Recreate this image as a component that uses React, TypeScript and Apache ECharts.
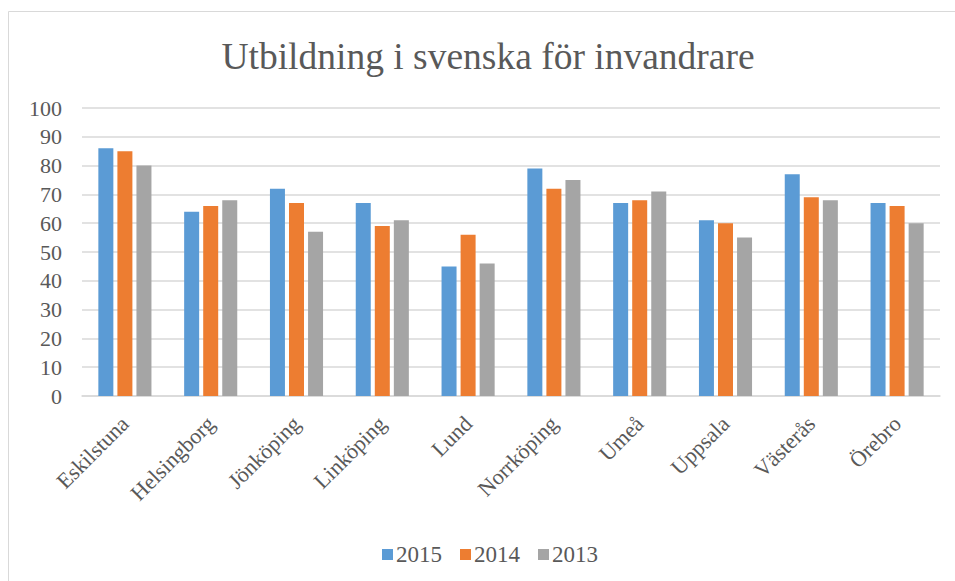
import React, { useEffect, useRef } from "react";
import * as echarts from "echarts";

const categories = ["Eskilstuna", "Helsingborg", "Jönköping", "Linköping", "Lund", "Norrköping", "Umeå", "Uppsala", "Västerås", "Örebro"];
const values2015 = [86, 64, 72, 67, 45, 79, 67, 61, 77, 67];
const values2014 = [85, 66, 67, 59, 56, 72, 68, 60, 69, 66];
const values2013 = [80, 68, 57, 61, 46, 75, 71, 55, 68, 60];
const seriesNames = ["2015", "2014", "2013"];
const colors = ["#5B9BD5", "#ED7D31", "#A5A5A5"];
const titleText = "Utbildning i svenska för invandrare";

const FONT = "Liberation Serif";

export default function App() {
  const ref = useRef<HTMLDivElement>(null);
  useEffect(() => {
    if (!ref.current) return;
    const chart = echarts.init(ref.current, undefined, { renderer: "svg" });
    const data = [values2015, values2014, values2013];
    chart.setOption({
      animation: false,
      backgroundColor: "#ffffff",
      color: colors,
      textStyle: { fontFamily: FONT },
      graphic: [
        {
          type: "rect",
          shape: { x: 8.5, y: 11.5, width: 1000, height: 700 },
          style: { fill: "none", stroke: "#D9D9D9", lineWidth: 1 },
          silent: true,
          z: -1,
        },
        {
          type: "text",
          x: 488,
          y: 56,
          style: {
            text: titleText,
            fontFamily: FONT,
            fontSize: 37.5,
            fill: "#595959",
            textAlign: "center",
            textVerticalAlign: "middle",
          },
        },
      ],
      legend: {
        data: seriesNames,
        left: 377,
        top: 538,
        itemWidth: 11,
        itemHeight: 11,
        itemGap: 18,
        icon: "rect",
        textStyle: { fontFamily: FONT, fontSize: 23, color: "#595959", padding: [0, 0, 0, -2] },
      },
      grid: { left: 82, right: 15, top: 108, bottom: 185, containLabel: false },
      xAxis: {
        type: "category",
        data: categories,
        axisLine: { lineStyle: { color: "#D9D9D9", width: 1.5 } },
        axisTick: { show: false },
        axisLabel: {
          rotate: 45,
          interval: 0,
          margin: 24,
          fontFamily: FONT,
          fontSize: 22,
          color: "#595959",
        },
      },
      yAxis: {
        type: "value",
        min: 0,
        max: 100,
        interval: 10,
        axisLine: { show: false },
        axisTick: { show: false },
        splitLine: { lineStyle: { color: "#D9D9D9", width: 1.5 } },
        axisLabel: { fontFamily: FONT, fontSize: 22, color: "#595959", margin: 20 },
      },
      series: seriesNames.map((name, i) => ({
        name,
        type: "bar",
        data: data[i],
        barWidth: 15,
        barGap: "27%",
        itemStyle: { color: colors[i] },
      })),
    });
    return () => chart.dispose();
  }, []);
  return (
    <div
      ref={ref}
      style={{ position: "absolute", left: 0, top: 0, width: 955, height: 581 }}
    />
  );
}
